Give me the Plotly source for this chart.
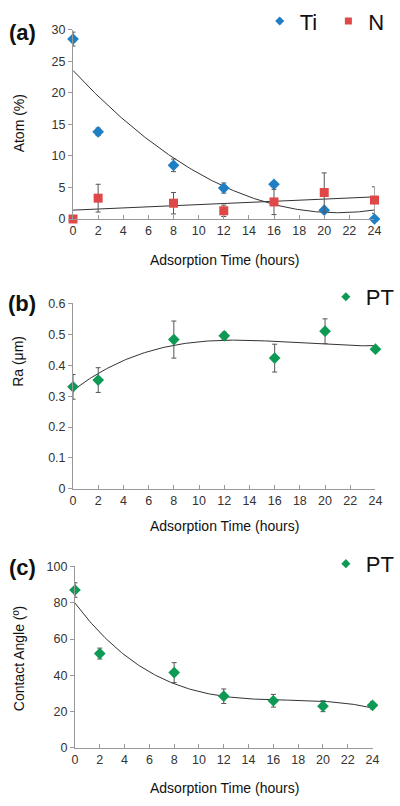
import numpy as np
import plotly.graph_objects as go

# ---- data ----
hours = [0, 2, 8, 12, 16, 20, 24]
ti_atom = [28.5, 13.8, 8.5, 4.9, 5.5, 1.4, 0.0]
ti_err = [1.1, 0.6, 1.0, 0.8, 0.3, 0.3, 0.0]
n_atom = [0.0, 3.3, 2.5, 1.3, 2.7, 4.2, 3.0]
n_err = [0.0, 2.2, 1.7, 0.9, 2.0, 3.1, 2.1]
pt_ra = [0.330, 0.352, 0.483, 0.495, 0.423, 0.510, 0.452]
pt_ra_err = [0.040, 0.040, 0.060, 0.012, 0.045, 0.040, 0.010]
pt_ca = [87.0, 52.0, 41.5, 28.5, 26.0, 23.0, 23.5]
pt_ca_err = [4.0, 3.0, 5.5, 4.0, 3.5, 3.0, 2.0]
x_ticks = list(range(0, 25, 2))

BLUE = "#1F7FC4"
RED = "#E04848"
GREEN = "#0E9A55"
FONT = "Liberation Sans, Arial, sans-serif"

W, H = 400, 806

def trend(x, y, deg):
    c = np.polyfit(x, y, deg)
    xs = np.linspace(0, 24, 200)
    return xs, np.polyval(c, xs)

fig = go.Figure()

err_style = dict(type="data", color="#555555", thickness=1, width=2.5)
line_style = dict(color="#333333", width=1)

def data_trace(y, err, symbol, color, xa, ya):
    return go.Scatter(x=hours, y=y, mode="markers", showlegend=False,
                      marker=dict(symbol=symbol, size=9, color=color),
                      error_y=dict(array=err, **err_style),
                      cliponaxis=False, xaxis=xa, yaxis=ya)

def legend_trace(name, symbol, color, xa, ya, legend):
    return go.Scatter(x=[None], y=[None], mode="markers", name=name,
                      marker=dict(symbol=symbol, size=7, color=color),
                      xaxis=xa, yaxis=ya, legend=legend)

# Panel (a)
xs, ys = trend(hours, ti_atom, 2)
fig.add_trace(go.Scatter(x=xs, y=ys, mode="lines", line=line_style, showlegend=False,
                         xaxis="x", yaxis="y", hoverinfo="skip"))
xs, ys = trend(hours, n_atom, 1)
fig.add_trace(go.Scatter(x=xs, y=ys, mode="lines", line=line_style, showlegend=False,
                         xaxis="x", yaxis="y", hoverinfo="skip"))
fig.add_trace(data_trace(ti_atom, ti_err, "diamond", BLUE, "x", "y"))
fig.add_trace(data_trace(n_atom, n_err, "square", RED, "x", "y"))
fig.add_trace(legend_trace("Ti\u00a0", "diamond", BLUE, "x", "y", "legend"))
fig.add_trace(legend_trace("N", "square", RED, "x", "y", "legend"))

# Panel (b)
xs, ys = trend(hours, pt_ra, 3)
fig.add_trace(go.Scatter(x=xs, y=ys, mode="lines", line=line_style, showlegend=False,
                         xaxis="x2", yaxis="y2", hoverinfo="skip"))
fig.add_trace(data_trace(pt_ra, pt_ra_err, "diamond", GREEN, "x2", "y2"))
fig.add_trace(legend_trace("PT", "diamond", GREEN, "x2", "y2", "legend2"))

# Panel (c)
xs, ys = trend(hours, pt_ca, 3)
fig.add_trace(go.Scatter(x=xs, y=ys, mode="lines", line=line_style, showlegend=False,
                         xaxis="x3", yaxis="y3", hoverinfo="skip"))
fig.add_trace(data_trace(pt_ca, pt_ca_err, "diamond", GREEN, "x3", "y3"))
fig.add_trace(legend_trace("PT", "diamond", GREEN, "x3", "y3", "legend3"))

def xax(left, right, anchor):
    return dict(domain=[left / W, right / W], range=[0, 24], tickvals=x_ticks,
                ticks="inside", ticklen=4, tickcolor="#999999", showline=True,
                linecolor="#999999", linewidth=1, showgrid=False, zeroline=False,
                tickfont=dict(family=FONT, size=12.5, color="#333333"), anchor=anchor,
                fixedrange=True)

def yax(top, bottom, rng, dtick, anchor):
    return dict(domain=[1 - bottom / H, 1 - top / H], range=rng, dtick=dtick,
                ticks="outside", ticklen=4, tickcolor="#999999", showline=True,
                linecolor="#999999", linewidth=1, showgrid=False, zeroline=False,
                tickfont=dict(family=FONT, size=12.5, color="#333333"), anchor=anchor,
                fixedrange=True)

annotations = []
def ann(text, x, y, size, angle=0, bold=False):
    annotations.append(dict(text=f"<b>{text}</b>" if bold else text, x=x / W, y=1 - y / H,
                            xref="paper", yref="paper", showarrow=False, textangle=angle,
                            font=dict(family=FONT, size=size, color="#111111"),
                            xanchor="center", yanchor="middle"))

ann("(a)", 20, 25, 22, bold=True)
ann("(b)", 20, 301, 22, bold=True)
ann("(c)", 20, 570, 22, bold=True)
ann("Adsorption Time (hours)", 228, 257, 14)
ann("Adsorption Time (hours)", 228, 528, 14)
ann("Adsorption Time (hours)", 228, 795, 14)
ann("Atom (%)", 16, 118, 14, angle=-90)
ann("Ra (μm)", 16, 360, 14, angle=-90)
ann("Contact Angle (º)", 16, 663, 14, angle=-90)

leg_font = dict(family=FONT, size=22, color="#111111")
def leg(xleft, ytop):
    return dict(orientation="h", x=xleft / W, xanchor="left", y=1 - ytop / H, yanchor="top",
                font=leg_font, bgcolor="rgba(0,0,0,0)", itemwidth=30, tracegroupgap=0,
                itemsizing="trace")

fig.update_layout(
    width=W, height=H, margin=dict(l=0, r=0, t=0, b=0),
    paper_bgcolor="white", plot_bgcolor="white",
    xaxis=xax(72, 382, "y"), yaxis=yax(22, 215, [0, 30], 5, "x"),
    xaxis2=xax(72, 383, "y2"), yaxis2=yax(301, 490, [0, 0.6], 0.1, "x2"),
    xaxis3=xax(74, 380, "y3"), yaxis3=yax(569, 754, [0, 100], 20, "x3"),
    legend=leg(264, -8), legend2=leg(332, 273), legend3=leg(332, 545),
    annotations=annotations,
)

fig.write_html("out.html", config={"displayModeBar": False},
               post_script="document.body.style.margin='0';document.body.style.overflow='hidden';")
